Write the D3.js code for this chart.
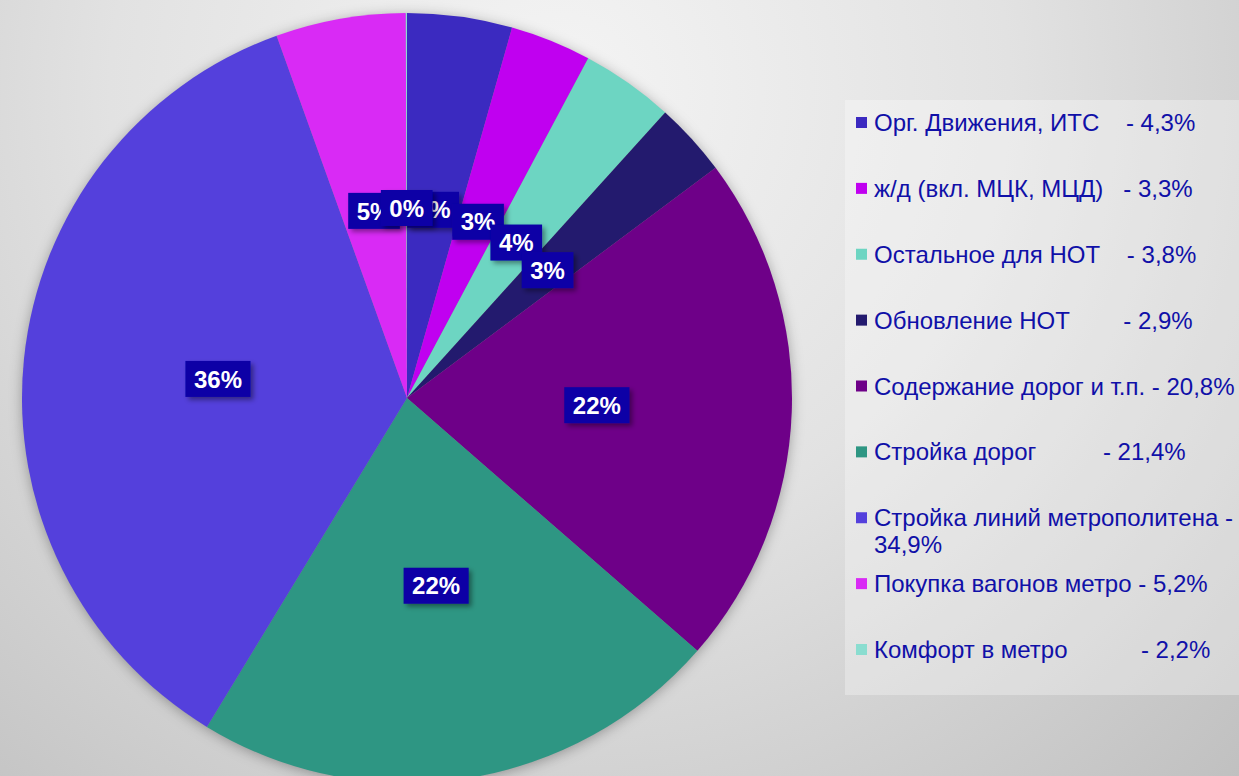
<!DOCTYPE html>
<html>
<head>
<meta charset="utf-8">
<script src="https://cdn.jsdelivr.net/npm/d3@7"></script>
<style>
  html, body { margin: 0; padding: 0; overflow: hidden; }
  svg { display: block; }
</style>
</head>
<body>
<svg id="chart"></svg>
<script>
// categories, in clockwise order from 12 o'clock
const categories = [
  "Орг. Движения, ИТС",
  "ж/д (вкл. МЦК, МЦД)",
  "Остальное для НОТ",
  "Обновление НОТ",
  "Содержание дорог и т.п.",
  "Стройка дорог",
  "Стройка линий метрополитена",
  "Покупка вагонов метро",
  "Комфорт в метро"
];
// slice sizes (percent)
const values = [4.4, 3.4, 3.9, 3.1, 21.6, 22.3, 35.8, 5.45, 0.05];
// legend text as typed in the source slide
const legendLabels = [
  ["Орг. Движения, ИТС    - 4,3%"],
  ["ж/д (вкл. МЦК, МЦД)   - 3,3%"],
  ["Остальное для НОТ    - 3,8%"],
  ["Обновление НОТ        - 2,9%"],
  ["Содержание дорог и т.п. - 20,8%"],
  ["Стройка дорог          - 21,4%"],
  ["Стройка линий метрополитена -", "34,9%"],
  ["Покупка вагонов метро - 5,2%"],
  ["Комфорт в метро           - 2,2%"]
];
const colors = [
  "#3B2AC0", "#C000F0", "#6DD5C2", "#231A6E", "#6E0088",
  "#2E9683", "#5440DC", "#D92AF5", "#8ADDD0"
];

const width = 1239, height = 776;
const cx = 407, cy = 398, radius = 385, labelRadius = 190;

const svg = d3.select("#chart").attr("width", width).attr("height", height);
const defs = svg.append("defs");

// slide background
const bg = defs.append("radialGradient").attr("id", "bg")
  .attr("gradientUnits", "userSpaceOnUse")
  .attr("cx", 560).attr("cy", 90).attr("r", 1000);
bg.append("stop").attr("offset", "0%").attr("stop-color", "#F4F4F4");
bg.append("stop").attr("offset", "45%").attr("stop-color", "#E2E2E2");
bg.append("stop").attr("offset", "100%").attr("stop-color", "#BEBEBE");

const pieShadow = defs.append("filter").attr("id", "pieShadow")
  .attr("x", "-10%").attr("y", "-10%").attr("width", "120%").attr("height", "120%");
pieShadow.append("feDropShadow").attr("dx", 0).attr("dy", 2)
  .attr("stdDeviation", 7).attr("flood-color", "#000").attr("flood-opacity", 0.35);

const boxShadow = defs.append("filter").attr("id", "boxShadow")
  .attr("x", "-30%").attr("y", "-30%").attr("width", "160%").attr("height", "160%");
boxShadow.append("feDropShadow").attr("dx", 3).attr("dy", 3)
  .attr("stdDeviation", 2.5).attr("flood-color", "#000").attr("flood-opacity", 0.4);

svg.append("rect").attr("width", width).attr("height", height).attr("fill", "url(#bg)");

// --- pie ---
const pie = d3.pie().value(d => d).sort(null);
const arcs = pie(values);
const total = d3.sum(values);
const arc = d3.arc().innerRadius(0).outerRadius(radius);
const labelArc = d3.arc().innerRadius(labelRadius).outerRadius(labelRadius);
const color = d3.scaleOrdinal().domain(categories).range(colors);

const g = svg.append("g").attr("transform", `translate(${cx},${cy})`);

g.append("circle").attr("r", radius - 1).attr("fill", "#888")
  .attr("filter", "url(#pieShadow)");

g.selectAll("path.slice")
  .data(arcs)
  .join("path")
  .attr("class", "slice")
  .attr("d", arc)
  .attr("fill", (d, i) => color(categories[i]));

// data labels, drawn in order so later ones overlap earlier ones
arcs.forEach((d, i) => {
  const [x, y] = labelArc.centroid(d);
  const txt = Math.round(d.value / total * 100) + "%";
  const lg = g.append("g").attr("transform", `translate(${x},${y})`);
  const rect = lg.append("rect").attr("fill", "#0A00A6").attr("filter", "url(#boxShadow)");
  const t = lg.append("text")
    .attr("text-anchor", "middle")
    .attr("dy", "0.36em")
    .style("font-family", "'Liberation Sans', Arial, sans-serif")
    .style("font-size", "24px")
    .style("font-weight", "bold")
    .style("fill", "#FFFFFF")
    .text(txt);
  const w = t.node().getComputedTextLength() + 17;
  rect.attr("x", -w / 2).attr("y", -18).attr("width", w).attr("height", 36);
});

// --- legend ---
const legendX = 845, legendY = 100;
svg.append("rect")
  .attr("x", legendX).attr("y", legendY)
  .attr("width", width - legendX + 5).attr("height", 595)
  .attr("fill", "#FFFFFF").attr("fill-opacity", 0.3);

const rowY = d3.scalePoint().domain(d3.range(9)).range([131, 658]);

const items = svg.append("g").selectAll("g")
  .data(categories)
  .join("g")
  .attr("transform", (d, i) => `translate(874,${rowY(i)})`);

items.append("rect")
  .attr("x", -18).attr("y", -14).attr("width", 11).attr("height", 11)
  .attr("fill", d => color(d));

items.append("text")
  .style("font-family", "'Liberation Sans', Arial, sans-serif")
  .style("font-size", "24px")
  .style("fill", "#1010A8")
  .style("white-space", "pre")
  .attr("y", 0)
  .each(function (d, i) {
    const lines = legendLabels[i];
    lines.forEach((line, j) => {
      d3.select(this).append("tspan")
        .attr("x", 0)
        .attr("dy", j === 0 ? 0 : 27)
        .text(line);
    });
  });
</script>
</body>
</html>
